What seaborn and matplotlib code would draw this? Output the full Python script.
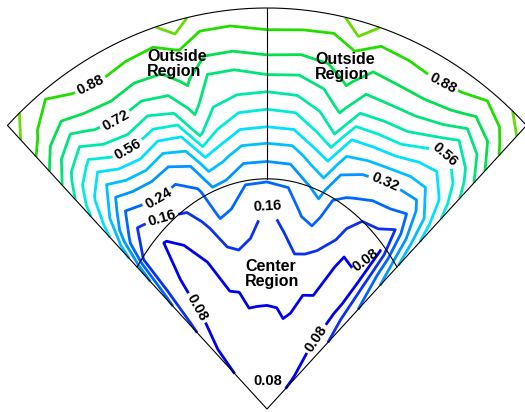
import numpy as np
import matplotlib
matplotlib.use("Agg")
import matplotlib.pyplot as plt
import seaborn as sns

sns.set_theme(style="white")
plt.rcParams['font.family'] = ['Liberation Sans', 'DejaVu Sans']
plt.rcParams['font.weight'] = 'bold'
plt.rcParams['text.color'] = 'black'

# sector grid: angle from the vertical (deg) and radius (0 = apex, 1 = outer arc)
phi_deg = [-45, -42, -38, -34, -29, -24, -19, -15, -11, -6, 0, 6, 11, 15, 19, 24, 29, 34, 38, 42, 45]
radius = [0, 0.1, 0.2, 0.3, 0.4, 0.5, 0.57, 0.64, 0.71, 0.78, 0.85, 0.92, 1.0]

# field values, one row per radius
values = [
    [.05, .05, .05, .05, .05, .05, .05, .05, .05, .05, .05, .05, .05, .05, .05, .05, .05, .05, .05, .05, .05],
    [.07, .065, .062, .056, .056, .057, .059, .06, .06, .061, .062, .062, .061, .061, .06, .059, .057, .056, .066, .075, .092],
    [.111, .08, .073, .062, .062, .064, .067, .069, .071, .072, .073, .073, .072, .071, .07, .067, .064, .062, .085, .116, .139],
    [.182, .105, .083, .067, .068, .071, .076, .079, .087, .086, .085, .086, .099, .09, .08, .076, .07, .068, .082, .16, .199],
    [.274, .13, .086, .073, .07, .079, .113, .14, .157, .144, .122, .136, .164, .16, .15, .116, .065, .075, .076, .21, .279],
    [.368, .155, .10, .079, .085, .133, .175, .249, .232, .201, .152, .192, .249, .27, .207, .187, .11, .10, .078, .272, .394],
    [.441, .26, .155, .167, .19, .185, .225, .315, .30, .245, .245, .253, .315, .352, .253, .233, .21, .20, .163, .33, .461],
    [.517, .40, .26, .286, .299, .274, .32, .453, .42, .36, .356, .36, .43, .48, .352, .32, .298, .288, .276, .40, .53],
    [.594, .493, .40, .453, .474, .427, .46, .654, .56, .498, .492, .498, .57, .64, .48, .469, .453, .42, .418, .493, .599],
    [.705, .607, .54, .61, .635, .60, .64, .746, .658, .63, .619, .63, .677, .743, .64, .63, .62, .551, .523, .592, .687],
    [.82, .745, .68, .738, .758, .738, .76, .815, .72, .719, .75, .74, .768, .816, .752, .756, .747, .709, .64, .711, .819],
    [.925, .864, .818, .847, .865, .847, .843, .869, .84, .839, .856, .849, .85, .872, .838, .848, .858, .84, .791, .84, .915],
    [1.02, .95, .90, .94, .94, .94, .93, 1.02, .92, .92, .93, .93, .92, 1.04, .93, .93, .94, .94, .92, .96, 1.0],
]

levels = [0.08, 0.16, 0.24, 0.32, 0.40, 0.48, 0.56, 0.64, 0.72, 0.80, 0.88, 0.96]

# where the contour labels sit (x, y in sector units)
label_spots = {
    0.88: [(-0.477, 0.80), (0.474, 0.805)],
    0.72: [(-0.411, 0.716)],
    0.56: [(-0.371, 0.633), (0.488, 0.641)],
    0.32: [(0.324, 0.571)],
    0.24: [(-0.30, 0.534)],
    0.16: [(-0.278, 0.449), (0.003, 0.529)],
    0.08: [(-0.191, 0.252), (0.259, 0.382), (0.123, 0.182)],
}

line_colors = sns.color_palette([
    "#0000ee", "#0a30f0", "#0066ff", "#0096ff", "#00bfff", "#00e0ff",
    "#00ecd8", "#00e8a8", "#00e47c", "#00e050", "#22dd00", "#66dd00",
])

P, R = np.meshgrid(np.radians(phi_deg), radius)
X = R * np.sin(P)
Y = R * np.cos(P)
V = np.array(values)

fig = plt.figure(figsize=(5.25, 4.12), dpi=100)
ax = fig.add_axes([0, 0, 1, 1])

# one contour set per level so each label lands on its own line
for lev, col in zip(levels, line_colors):
    cs = ax.contour(X, Y, V, levels=[lev], colors=[col], linewidths=2.0)
    if lev in label_spots:
        ax.clabel(cs, manual=label_spots[lev], inline=True, fmt='%.2f',
                  fontsize=10.5, colors='black', inline_spacing=3)

# sector outline
half = np.radians(45)
t = np.linspace(-half, half, 200)
ax.plot(np.sin(t), np.cos(t), color='black', lw=0.8)
ax.plot([-np.sin(half), 0, np.sin(half)], [np.cos(half), 0, np.cos(half)], color='black', lw=0.8)

# center region boundary and divider
a, b = 0.45, 0.574
t0 = np.arctan(b / a)
ti = np.linspace(-t0, t0, 200)
ax.plot(a * np.sin(ti), b * np.cos(ti), color='black', lw=0.8)
ax.plot([0, 0], [b, 1.0], color='black', lw=0.8)

ax.text(-0.327, 0.86, "Outside\nRegion", ha='left', va='center', fontsize=11.5, linespacing=1.05)
ax.text(0.131, 0.853, "Outside\nRegion", ha='left', va='center', fontsize=11.5, linespacing=1.05)
ax.text(-0.06, 0.337, "Center\nRegion", ha='left', va='center', fontsize=11.5, linespacing=1.05)
ax.text(0.003, 0.07, "0.08", ha='center', va='center', fontsize=10.5)

ax.set_xlim(-267 / 367, 258 / 367)
ax.set_ylim(-3 / 401, 409 / 401)
ax.axis('off')

fig.savefig("out.png", dpi=100)
